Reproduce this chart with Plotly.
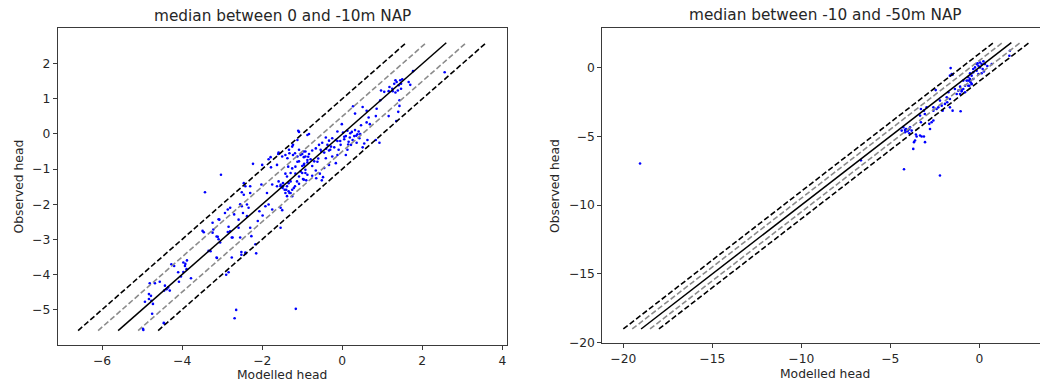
import plotly.graph_objects as go

# ---------------- data ----------------
# Left panel: median between 0 and -10m NAP  (modelled, observed)
left_modelled = [
    1.77, 2.56, 1.33, 1.36, 1.30, 1.45, 1.50, 1.47, 1.41, 1.18, 1.25, 1.16, 1.05, 0.97, 1.26, 1.33, 1.39, 1.47, 1.66, 1.70,
    1.43, 1.43, 1.40, 1.16, 1.35, 0.95,
    0.27, 0.51, 0.61, 0.32, 0.86, 0.84, 0.66, 0.61, 0.69, 0.47, -0.01, -0.12, 0.02, 0.13, 0.24, 0.32, 0.41, 0.38, 0.30, 0.19,
    0.09, 0.05, 0.16, 0.26, 0.43, 0.36, 0.22, 0.63, 0.55, 0.51, 0.84, 0.93, -0.04, -0.16, -0.25, -0.33, -0.41, -0.50, -0.37,
    -0.20, -0.09, -0.58, -0.66, -0.54, -0.45, -0.33, -0.75, -0.83, -0.92, -1.00, -1.08, -0.96, -0.79, -0.87, -0.75, -1.00,
    -0.66, -0.56, -0.48, -0.75, -0.92, -1.04, -1.17, -1.25, -1.35, -1.42, -1.29, -1.48, -1.40, -1.32, -1.21, -1.08, -0.98,
    -0.90, -0.65, -0.51, -1.08, -0.83, -1.12, -1.23, -1.33, -1.59, -1.50, -1.23, -0.41, -0.25, -0.12, 0.13, 0.09, -0.33,
    -0.16, -0.45, -0.62, -1.12, -1.54, -1.25,
    -0.28, -0.40, -0.52, -0.12, 0.05, 0.20, 0.35, -0.60, -0.70, -0.85, -0.95, -0.30, -0.05, 0.45, 0.15,
    -3.03, -3.43, -2.23, -1.84, -1.79, -1.60, -1.42, -1.37, -1.32, -2.00, -1.63, -1.78, -2.02, -1.88, -2.46, -2.42, -2.51,
    -2.30, -2.80, -2.51, -2.38, -2.34, -2.86, -1.84, -1.75, -1.54, -2.07, -1.99, -2.59, -3.07, -2.84, -2.80, -2.59, -2.30,
    -1.49, -1.44, -1.38, -1.34, -1.25, -1.29, -1.42, -1.48, -1.34, -1.54, -1.18, -1.38, -1.59,
    -1.18, -1.12, -1.04, -0.96, -0.92, -0.87, -0.96, -1.08, -1.17, -0.92, -1.00, -0.87, -1.08, -0.96, -1.29, -1.38, -1.13,
    -1.75, -1.63, -1.25, -0.87, -2.30, -2.46, -2.55, -2.48, -2.38, -2.70, -1.92, -1.50, -2.11, -2.76, -2.55, -2.93, -3.09,
    -3.24, -3.46, -3.22, -3.14, -3.09, -3.05, -3.34, -3.14, -2.76, -2.90, -1.54, -1.10, -2.42, -2.52, -1.16, -2.65, -2.69,
    -4.97, -4.46,
    -3.49, -3.24, -3.11, -2.86, -2.74, -2.27, -2.17, -2.52, -2.41, -3.13, -3.29, -2.84, -4.27, -4.20, -3.97, -3.93, -3.89,
    -3.97, -4.10, -4.03, -3.78, -4.08, -4.56, -4.68, -4.81, -4.43, -4.39, -4.35, -4.31, -4.45, -4.83, -4.78, -4.83, -4.93,
    -4.77, -4.73, -4.75, -4.98, -4.45, -3.92, -3.88, -2.15,
]
left_observed = [
    1.79, 1.76, 1.53, 1.48, 1.43, 1.53, 1.56, 1.43, 1.39, 1.34, 1.29, 1.22, 1.20, 1.24, 1.22, 1.18, 1.24, 1.29, 1.48, 1.40,
    0.96, 0.80, 0.63, 0.51, 0.37, 0.96,
    0.79, 0.77, 0.66, 0.58, 0.72, 0.51, 0.47, 0.33, 0.28, 0.25, 0.28, 0.07, 0.04, 0.09, 0.06, 0.11, 0.07, -0.01, -0.06, -0.10,
    -0.06, -0.15, -0.22, -0.17, -0.12, -0.25, -0.31, -0.17, -0.27, -0.38, -0.17, -0.25, -0.31, -0.17, -0.12, -0.19, -0.10,
    -0.25, -0.31, -0.38, -0.45, -0.31, -0.41, -0.45, -0.53, -0.47, -0.47, -0.57, -0.50, -0.57, -0.45, -0.66, -0.72, -0.81,
    -0.91, -0.91, -1.04, -1.13, -1.23, -1.19, -1.11, -1.07, -1.13, -0.98, -0.93, -1.13, -1.35, -1.49, -1.59, -1.68, -1.54,
    -1.42, -1.28, -1.32, -1.26, -1.32, 0.06, 0.00, -0.17, -0.31, -0.45, -0.53, -0.64, -0.60, -0.69, -0.64, -0.60, -0.45,
    -0.60, -0.88, -0.83, -0.97, -0.79, -0.79, -1.45, -1.77,
    -0.36, -0.42, -0.50, -0.20, -0.08, 0.02, -0.05, -0.70, -0.78, -0.65, -0.85, -0.45, -0.20, 0.00, -0.30,
    -1.16, -1.66, -0.85, -0.72, -0.66, -0.57, -0.60, -0.69, -0.55, -0.88, -0.88, -0.95, -1.44, -1.68, -1.40, -1.49, -1.66,
    -1.68, -2.10, -2.06, -2.01, -2.10, -2.15, -2.01, -2.15, -2.10, -2.20, -2.32, -2.44, -2.44, -2.64, -2.77, -2.67, -2.67,
    -1.54, -1.59, -1.49, -1.63, -1.59, -1.68, -1.68, -1.40, -1.40, -1.49, -1.49, -1.77, -1.35,
    -0.55, -0.64, -0.60, -0.50, -0.64, -0.74, -0.88, -0.78, -0.93, -1.02, -1.11, -1.16, -1.21, -1.30, -1.11, -1.21, -1.35,
    -1.44, -1.49, -0.36, -0.03, -1.49, -1.73, -2.00, -2.25, -2.34, -2.29, -2.06, -2.17, -2.48, -2.95, -2.95, -2.25, -2.43,
    -2.53, -2.80, -2.72, -2.92, -3.00, -3.09, -3.33, -3.52, -3.52, -4.01, -2.67, 0.09, -3.38, -3.44, -4.98, -5.01, -5.25,
    -5.58, -5.38,
    -2.76, -2.81, -2.93, -2.79, -2.95, -2.91, -3.14, -3.36, -3.40, -3.53, -3.34, -3.94, -3.71, -3.76, -3.66, -3.76, -3.85,
    -3.93, -3.94, -4.06, -4.11, -4.21, -4.21, -4.25, -4.25, -4.32, -4.42, -4.37, -4.46, -4.46, -4.56, -4.61, -4.70, -4.78,
    -4.75, -4.84, -5.12, -5.55, -5.39, -3.70, -3.60, -3.40,
]

# Right panel: median between -10 and -50m NAP  (modelled, observed)
right_modelled = [
    -19.06, -4.23, -2.21, -6.65,
    -4.27, -4.17, -4.04, -3.93, -4.36, -4.12, -3.99, -3.89, -4.17, -3.93, -3.80,
    -3.56, -3.52, -3.33, -3.24, -3.11, -3.61, -3.67, -3.05, -3.71,
    -2.77, -2.68, -2.58, -2.81, -3.28, -3.33, -3.06, -3.11, -3.28, -2.96, -2.58, -2.30, -2.11, -2.40, -2.58, -2.06, -1.50,
    -1.05, -1.65, -1.93, -1.80, -2.21, -1.65, -1.83, -1.74, -2.45,
    -1.27, -1.08, -1.18, -1.37, -0.99, -1.08, -0.90, -0.56, -0.43, -0.49, -0.62, -0.52, -1.61, -1.55, -1.65, -1.50,
    0.04, 0.13, 0.23, 0.32, -0.05, -0.15, -0.24, -0.34, 0.04, 0.19, 0.26, -0.15, -0.34, -0.43, -0.52, -0.62, -0.71, -0.52,
    -0.34, -0.43, -0.62, -0.80, -0.90, -0.99, -0.80, -0.05, 0.13, 0.70, 1.72, 1.69, 0.45, -0.10,
]
right_observed = [
    -6.98, -7.40, -7.85, -6.75,
    -4.34, -4.54, -4.63, -4.47, -4.59, -4.47, -4.54, -4.35, -4.71, -4.78, -4.59,
    -4.87, -5.02, -4.95, -5.02, -5.02, -5.31, -5.43, -5.43, -5.92,
    -4.47, -3.98, -3.86, -4.10, -3.98, -3.50, -3.38, -3.14, -3.02, -2.90, -2.90, -2.90, -2.78, -3.02, -3.14, -3.14, -3.14,
    -3.19, -2.90, -2.65, -2.53, -2.41, -2.29, -2.17, -1.81, -1.65,
    -1.93, -1.93, -1.69, -1.57, -1.64, -1.40, -0.96, -1.33, -1.20, -1.08, -0.96, -0.84, -0.05, -0.48, -0.60, -0.53,
    0.36, 0.24, 0.44, 0.24, 0.12, 0.24, 0.00, -0.12, 0.00, -0.12, -0.29, -0.24, -0.36, -0.60, -0.43, -0.72, -0.96, -0.96,
    -0.84, -1.21, -1.33, -1.33, -1.57, -1.74, -1.81, -0.48, -0.43, 0.24, 1.21, 0.85, 0.10, 0.30,
]

left_line_range = [-5.6, 2.6]
right_line_range = [-19.0, 1.8]
line_offsets = [1.0, 0.5, 0.0, -0.5, -1.0]

left_title = "median between 0 and -10m NAP"
right_title = "median between -10 and -50m NAP"
x_label = "Modelled head"
y_label = "Observed head"

left_xticks = [-6, -4, -2, 0, 2, 4]
left_yticks = [-5, -4, -3, -2, -1, 0, 1, 2]
right_xticks = [-20, -15, -10, -5, 0]
right_yticks = [-20, -15, -10, -5, 0]

# ---------------- figure ----------------
FONT = "DejaVu Sans"
TXT = "#262626"
fig = go.Figure()


def add_panel(fig, mod, obs, rng, xa, ya):
    fig.add_trace(go.Scatter(x=mod, y=obs, mode="markers", xaxis=xa, yaxis=ya,
                             marker=dict(color="#0000ff", size=2.6, line=dict(width=0)),
                             showlegend=False, hoverinfo="skip"))
    for d in line_offsets:
        ys = list(rng)
        xs = [v - d for v in ys]
        if d == 0:
            style = dict(color="black", width=1.5)
        elif abs(d) == 0.5:
            style = dict(color="#8c8c8c", width=1.6, dash="5.5px,2.6px")
        else:
            style = dict(color="black", width=1.6, dash="5.5px,2.6px")
        fig.add_trace(go.Scatter(x=xs, y=ys, mode="lines", xaxis=xa, yaxis=ya,
                                 line=style, showlegend=False, hoverinfo="skip"))


add_panel(fig, left_modelled, left_observed, left_line_range, "x", "y")
add_panel(fig, right_modelled, right_observed, right_line_range, "x2", "y2")

W, H = 1040, 383
axis_common = dict(showgrid=False, zeroline=False, showline=True, linecolor="#3a3a3a", linewidth=1,
                   ticks="outside", ticklen=4, tickwidth=1, tickcolor="#3a3a3a", automargin=False,
                   tickfont=dict(family=FONT, size=12.3, color=TXT))

fig.update_layout(
    width=W, height=H,
    margin=dict(l=0, r=0, t=0, b=0),
    paper_bgcolor="white", plot_bgcolor="white",
    font=dict(family=FONT, color=TXT),
    xaxis=dict(domain=[57.7 / W, 506.7 / W], range=[-7.11, 4.11], tickvals=left_xticks,
               anchor="y", mirror=True, **axis_common),
    yaxis=dict(domain=[1 - 345 / H, 1 - 28.3 / H], range=[-6.01, 3.01], tickvals=left_yticks,
               anchor="x", mirror=True, **axis_common),
    xaxis2=dict(domain=[602.3 / W, 1.0], range=[-21.18, 3.41], tickvals=right_xticks,
                anchor="y2", mirror=True, **axis_common),
    yaxis2=dict(domain=[1 - 343.3 / H, 1 - 28.3 / H], range=[-20.04, 2.84], tickvals=right_yticks,
                anchor="x2", mirror=False, **axis_common),
)

ann = []
ann.append(dict(text=left_title, x=282 / W, y=1 - 15.7 / H, xref="paper", yref="paper",
                showarrow=False, xanchor="center", yanchor="middle", font=dict(family=FONT, size=15.3, color=TXT)))
ann.append(dict(text=right_title, x=825 / W, y=1 - 15.3 / H, xref="paper", yref="paper",
                showarrow=False, xanchor="center", yanchor="middle", font=dict(family=FONT, size=15.3, color=TXT)))
for xc, yc in [(282, 375), (825, 373.5)]:
    ann.append(dict(text=x_label, x=xc / W, y=1 - yc / H, xref="paper", yref="paper",
                    showarrow=False, xanchor="center", yanchor="middle", font=dict(family=FONT, size=12.3, color=TXT)))
for xc, yc in [(18.5, 187), (555, 186)]:
    ann.append(dict(text=y_label, x=xc / W, y=1 - yc / H, xref="paper", yref="paper", textangle=-90,
                    showarrow=False, xanchor="center", yanchor="middle", font=dict(family=FONT, size=12.3, color=TXT)))
fig.update_layout(annotations=ann)

fig.write_html("out.html")
